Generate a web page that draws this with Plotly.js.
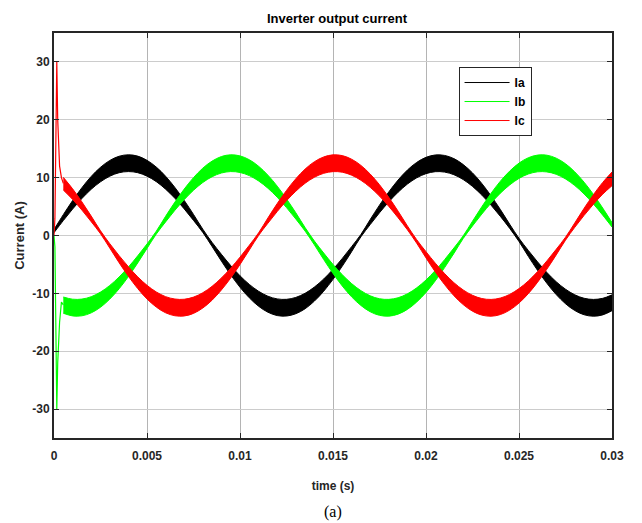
<!DOCTYPE html>
<html>
<head>
<meta charset="utf-8">
<script src="https://cdn.plot.ly/plotly-3.0.1.min.js"></script>
<style>
  html, body { margin: 0; padding: 0; background: #fff; }
  #chart { width: 642px; height: 523px; }
</style>
</head>
<body>
<div id="chart"></div>
<script>
// time samples (s), every 0.5 ms
var tSec = [0,0.0005,0.001,0.0015,0.002,0.0025,0.003,0.0035,0.004,0.0045,0.005,0.0055,0.006,0.0065,0.007,0.0075,0.008,0.0085,0.009,0.0095,0.01,0.0105,0.011,0.0115,0.012,0.0125,0.013,0.0135,0.014,0.0145,0.015,0.0155,0.016,0.0165,0.017,0.0175,0.018,0.0185,0.019,0.0195,0.02,0.0205,0.021,0.0215,0.022,0.0225,0.023,0.0235,0.024,0.0245,0.025,0.0255,0.026,0.0265,0.027,0.0275,0.028,0.0285,0.029,0.0295,0.03];

// upper / lower envelope of the ripple band for each phase current (A)
var iaHigh = [1.04,3.60,6.03,8.26,10.21,11.79,12.97,13.70,13.95,13.72,12.99,11.82,10.24,8.30,6.07,3.64,1.09,-1.20,-3.25,-5.20,-6.96,-8.45,-9.64,-10.49,-10.96,-11.03,-10.70,-9.99,-8.91,-7.52,-5.84,-3.96,-1.93,0.18,2.76,5.25,7.54,9.59,11.31,12.63,13.51,13.92,13.84,13.29,12.26,10.82,8.99,6.84,4.48,1.95,-0.49,-2.58,-4.57,-6.39,-7.99,-9.28,-10.25,-10.85,-11.05,-10.86,-10.26];
var iaLow  = [0.49,2.58,4.57,6.39,7.99,9.28,10.25,10.85,11.05,10.86,10.26,9.31,8.01,6.43,4.60,2.61,0.53,-1.91,-4.42,-6.80,-8.95,-10.77,-12.23,-13.26,-13.84,-13.92,-13.52,-12.66,-11.34,-9.63,-7.58,-5.29,-2.80,-0.23,1.89,3.93,5.81,7.48,8.89,9.97,10.69,11.03,10.96,10.51,9.67,8.49,6.99,5.23,3.30,1.23,-1.04,-3.60,-6.03,-8.26,-10.21,-11.79,-12.97,-13.70,-13.95,-13.72,-12.99];

var ibHigh = [-9.87,-10.63,-11.01,-10.99,-10.58,-9.78,-8.63,-7.17,-5.45,-3.52,-1.47,0.75,3.32,5.77,8.02,10.00,11.64,12.86,13.65,13.95,13.76,13.10,11.97,10.43,8.53,6.33,3.93,1.37,-0.96,-3.03,-5.00,-6.78,-8.31,-9.53,-10.42,-10.93,-11.04,-10.76,-10.08,-9.05,-7.69,-6.04,-4.18,-2.16,-0.06,2.47,4.97,7.30,9.39,11.13,12.51,13.44,13.90,13.88,13.37,12.40,10.99,9.21,7.10,4.75,2.24];
var ibLow  = [-12.51,-13.44,-13.90,-13.88,-13.37,-12.40,-10.99,-9.21,-7.10,-4.75,-2.24,0.25,2.35,4.36,6.20,7.82,9.16,10.16,10.80,11.05,10.89,10.35,9.43,8.17,6.62,4.82,2.85,0.76,-1.62,-4.15,-6.55,-8.73,-10.60,-12.09,-13.18,-13.80,-13.94,-13.59,-12.77,-11.50,-9.84,-7.83,-5.55,-3.09,-0.52,1.66,3.70,5.61,7.32,8.74,9.87,10.63,11.01,10.99,10.58,9.78,8.63,7.17,5.45,3.52,1.47];

var icHigh = [11.67,10.05,8.07,5.81,3.36,0.81,-1.42,-3.48,-5.40,-7.14,-8.61,-9.76,-10.57,-10.98,-11.02,-10.65,-9.89,-8.78,-7.34,-5.65,-3.74,-1.69,0.46,3.03,5.51,7.79,9.80,11.48,12.75,13.58,13.94,13.81,13.19,12.12,10.62,8.77,6.59,4.20,1.66,-0.72,-2.80,-4.78,-6.58,-8.15,-9.41,-10.34,-10.89,-11.05,-10.81,-10.18,-9.18,-7.86,-6.24,-4.39,-2.39,-0.30,2.18,4.70,7.05,9.17,10.97];
var icLow  = [9.18,7.86,6.24,4.39,2.39,0.30,-2.18,-4.70,-7.05,-9.17,-10.97,-12.37,-13.36,-13.87,-13.91,-13.46,-12.53,-11.17,-9.41,-7.35,-5.01,-2.51,0.01,2.12,4.14,6.01,7.65,9.03,10.07,10.75,11.04,10.94,10.43,9.55,8.33,6.81,5.03,3.07,0.99,-1.33,-3.87,-6.29,-8.49,-10.40,-11.94,-13.08,-13.76,-13.95,-13.66,-12.89,-11.67,-10.05,-8.07,-5.81,-3.36,-0.81,1.42,3.48,5.40,7.14,8.61];

// start-up transient (first 0.5 ms)
var tStart  = [0, 0.00005, 0.00015, 0.0002, 0.0003, 0.0004, 0.0005];
var ibStart = [0, -2, -30, -22, -15, -11.5, -12];
var icStart = [0, 3, 30, 20, 12, 10, 9];

var seriesNames = ['Ia', 'Ib', 'Ic'];
var seriesColors = ['#000000', '#00ff00', '#ff0000'];

var xTickVals = [0, 0.005, 0.01, 0.015, 0.02, 0.025, 0.03];
var xTickText = ['0', '0.005', '0.01', '0.015', '0.02', '0.025', '0.03'];
var yTickVals = [-30, -20, -10, 0, 10, 20, 30];
var yTickText = ['-30', '-20', '-10', '0', '10', '20', '30'];

var FONT = '"Liberation Sans", Arial, Helvetica, sans-serif';

function band(x, lo, hi, color) {
  return [
    { x: x, y: lo, type: 'scatter', mode: 'lines', showlegend: false,
      line: { color: color, width: 1, shape: 'spline' }, hoverinfo: 'skip' },
    { x: x, y: hi, type: 'scatter', mode: 'lines', showlegend: false,
      line: { color: color, width: 1, shape: 'spline' }, fill: 'tonexty', fillcolor: color, hoverinfo: 'skip' }
  ];
}

var traces = [];
traces = traces.concat(band(tSec, iaLow, iaHigh, seriesColors[0]));
traces.push({ x: tStart, y: ibStart, type: 'scatter', mode: 'lines', showlegend: false,
  line: { color: seriesColors[1], width: 1.2 }, hoverinfo: 'skip' });
traces = traces.concat(band(tSec.slice(1), ibLow.slice(1), ibHigh.slice(1), seriesColors[1]));
traces.push({ x: tStart, y: icStart, type: 'scatter', mode: 'lines', showlegend: false,
  line: { color: seriesColors[2], width: 1.2 }, hoverinfo: 'skip' });
traces = traces.concat(band(tSec.slice(1), icLow.slice(1), icHigh.slice(1), seriesColors[2]));
// legend entries (line samples)
for (var i = 0; i < seriesNames.length; i++) {
  traces.push({ x: [null], y: [null], type: 'scatter', mode: 'lines', name: seriesNames[i],
    showlegend: true, line: { color: seriesColors[i], width: 1 }, hoverinfo: 'skip' });
}

var layout = {
  width: 642, height: 523,
  margin: { l: 54, r: 30, t: 33, b: 85 },
  paper_bgcolor: '#ffffff', plot_bgcolor: '#ffffff',
  font: { family: FONT, color: '#262626', size: 12 },
  title: { text: '<b>Inverter output current</b>', x: 0.525, xanchor: 'center', y: 0.965, yanchor: 'middle',
    font: { family: FONT, size: 13, color: '#000000' } },
  xaxis: {
    range: [0, 0.03], tickvals: xTickVals, ticktext: xTickText,
    ticks: 'inside', ticklen: 5, tickcolor: '#262626', tickwidth: 1,
    showline: true, linecolor: '#262626', linewidth: 2, mirror: 'ticks',
    showgrid: true, gridcolor: '#b4b4b4', gridwidth: 1, zeroline: false,
    ticklabelstandoff: 6,
    tickfont: { family: FONT, size: 12, color: '#262626', weight: 'bold' },
    title: { text: '<b>time (s)</b>', standoff: 19, font: { family: FONT, size: 12, color: '#262626' } },
    fixedrange: true
  },
  yaxis: {
    range: [-35, 35], tickvals: yTickVals, ticktext: yTickText,
    ticks: 'inside', ticklen: 5, tickcolor: '#262626', tickwidth: 1,
    showline: true, linecolor: '#262626', linewidth: 2, mirror: 'ticks',
    showgrid: true, gridcolor: '#cccccc', gridwidth: 1, zeroline: false,
    tickfont: { family: FONT, size: 12, color: '#262626', weight: 'bold' },
    title: { text: '<b>Current (A)</b>', standoff: 5, font: { family: FONT, size: 13, color: '#262626' } },
    fixedrange: true
  },
  legend: {
    x: 0.725, y: 0.916, xanchor: 'left', yanchor: 'top', traceorder: 'normal',
    bgcolor: '#ffffff', bordercolor: '#262626', borderwidth: 1,
    font: { family: FONT, size: 12, color: '#000000', weight: 'bold' },
    itemwidth: 45, tracegroupgap: 0
  },
  annotations: [{
    text: '(a)', xref: 'paper', yref: 'paper', x: 0.5, y: -0.183, xanchor: 'center', yanchor: 'middle',
    showarrow: false, font: { family: '"Liberation Serif", "Times New Roman", serif', size: 16, color: '#000000' }
  }],
  showlegend: true
};

Plotly.newPlot('chart', traces, layout, { displayModeBar: false, staticPlot: true });
</script>
</body>
</html>
